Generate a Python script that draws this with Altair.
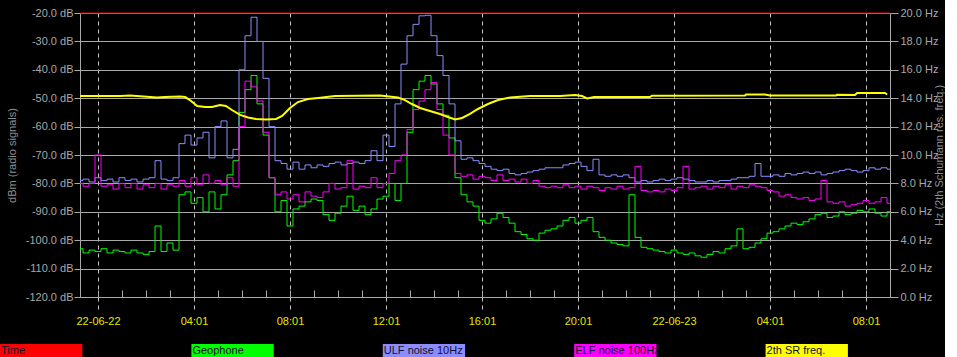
import altair as alt
import pandas as pd

# sample times: hours after 22-06-22 00:01, one reading every quarter hour
hours = [-0.75 + 0.25 * i for i in range(136)]

geophone_db = [
    -103, -104.5, -103.5, -104, -103, -104.5, -103.5, -104, -104.5, -103.5,
    -104.5, -105, -104, -95, -104, -101, -103.5, -84, -83, -87,
    -85, -90, -83, -89, -84, -77, -72, -55, -47, -42,
    -52, -63, -78, -90, -86, -95, -89, -88, -86.5, -85.5,
    -86, -91, -93, -90.5, -88, -84.5, -89.5, -88, -91, -89,
    -85.5, -84.5, -80, -86, -80, -62, -47, -44, -42, -45,
    -52, -56, -64, -78, -84, -86.5, -88, -93, -94, -92.5,
    -90.5, -92, -94, -97, -98, -99.5, -100, -97.5, -96.5, -96,
    -95, -93, -92, -94, -93, -92, -97, -99, -100, -101,
    -101.5, -102, -84, -99, -102.5, -103, -103.5, -104, -104.5, -103.5,
    -104.5, -105, -104.5, -105.5, -106, -105, -104, -104.5, -103, -102,
    -96, -103, -102.5, -101, -99.5, -97.5, -97, -96, -95, -94,
    -94.5, -93.5, -92.5, -91, -90.5, -92, -91.5, -90, -91, -90.5,
    -89.5, -90, -89, -90.5, -91.5, -90,
]

ulf_db = [
    -79, -78.5, -79.5, -78, -79, -78.5, -79.5, -78, -79, -78.5,
    -79.5, -78.5, -78, -72, -78.5, -79, -78, -66, -63, -66.5,
    -64, -62, -71, -60, -58, -71, -68, -40, -28, -21.5,
    -30, -43, -60, -72, -73, -75, -72.5, -75, -73.5, -74.5,
    -73.5, -74, -73, -72.5, -73.5, -73, -72.5, -73, -72, -68.5,
    -72, -63, -67, -52, -38, -28, -24, -21, -20.8, -28,
    -35, -42, -52, -65, -71.5, -71, -72, -73, -74, -75,
    -75.5, -75, -76.5, -77, -76.5, -76, -75.5, -75, -74.5, -74.5,
    -74.5, -73.5, -73, -72.5, -74, -75.5, -71.5, -77, -77.5, -77,
    -77.5, -77, -78, -79.5, -79, -79.5, -79, -78.5, -79, -78.5,
    -78, -78.5, -79, -79.5, -79.5, -79, -79.5, -79, -79, -78.5,
    -78, -78, -77.5, -73, -77.5, -77.5, -77, -77.5, -76.5, -77,
    -76.5, -76, -76.5, -76, -77, -76.5, -76, -75.5, -75, -75.5,
    -76, -75.5, -74.5, -75, -74.5, -75,
]

elf_db = [
    -80, -81, -80, -70, -81, -80.5, -82, -80, -81.5, -80,
    -82, -80.5, -81.5, -80, -82, -80.5, -81, -79, -81, -78,
    -80.5, -77, -80, -79, -80.5, -78, -81, -60, -44, -46,
    -51, -62, -78, -84, -83, -85.5, -84, -86.5, -83, -84.5,
    -85, -83, -80, -82, -81.5, -72, -82, -81, -81.5, -78,
    -81.5, -80, -76.5, -72, -70, -61, -54, -51, -47, -44.5,
    -54, -63, -70, -76.5, -77.5, -77, -78.5, -77.5, -78, -79,
    -77, -79, -78.5, -79.5, -78.5, -80, -79, -81, -81.5, -81,
    -81.5, -80.5, -81.5, -81, -82, -81, -81.5, -82.5, -81.5, -82,
    -81, -82, -81.5, -74, -82.5, -83, -82.5, -83, -82, -82.5,
    -81.5, -74, -82, -81.5, -81, -82, -81, -81.5, -80.5, -82,
    -81, -81.5, -80.5, -81, -81.5, -82.5, -83, -84.5, -84, -85,
    -85.5, -85, -86, -85.5, -79, -86.5, -87, -86.5, -88, -87.5,
    -87, -86, -87, -86.5, -85, -87,
]

sr_hours = [
    -0.75, 0.92, 1.33, 2.46, 2.79, 3.42, 3.63, 3.83, 4.13, 4.46, 4.75, 5.08,
    5.33, 5.58, 5.92, 6.25, 6.58, 7.0, 7.42, 7.67, 8.0, 8.33, 8.75, 9.17,
    9.88, 11.75, 12.5, 12.79, 13.08, 13.42, 13.83, 14.25, 14.58, 14.88, 15.17,
    15.5, 15.83, 16.25, 16.67, 17.17, 18.0, 19.25, 19.88, 20.17, 20.38, 20.67,
    21.75, 23.0, 23.08, 26.96, 27.0, 27.79, 28.0, 30.75, 30.79, 31.54, 31.63,
    32.79, 32.88,
]
sr_hz = [
    14.15, 14.15, 14.19, 14.05, 14.08, 14.12, 14.08, 13.87, 13.45, 13.38, 13.38, 13.52,
    13.45, 13.17, 12.82, 12.64, 12.54, 12.5, 12.54, 12.75, 13.31, 13.73, 13.94, 14.01,
    14.15, 14.19, 14.05, 13.87, 13.59, 13.31, 13.1, 12.89, 12.68, 12.5, 12.61,
    12.89, 13.24, 13.59, 13.87, 14.05, 14.15, 14.15, 14.23, 14.15, 13.98, 14.08,
    14.08, 14.08, 14.17, 14.19, 14.26, 14.26, 14.19, 14.19, 14.24, 14.23, 14.37,
    14.37, 14.26,
]

time_level = [-20]
major_hours = [0, 4, 8, 12, 16, 20, 24, 28, 32]
minor_hours = list(range(0, 34))
db_ticks = [-120, -110, -100, -90, -80, -70, -60, -50, -40, -30, -20]
hz_ticks = [0, 2, 4, 6, 8, 10, 12, 14, 16, 18, 20]

legend_names = ["Time", "Geophone", "ULF noise 10Hz", "ELF noise 100Hz", "2th SR freq."]
legend_colors = ["#ff0000", "#00ff00", "#8c8cff", "#ff00ff", "#ffff00"]

FONT = "Liberation Sans"
GRID = "#a8a8a8"
LABEL = "#a8a8a8"
PLOT_W = 810
PLOT_H = 284
PLOT_LEFT = 80   # page x of the plot area's left edge
SLOT = 191.4     # legend slot width in page pixels

xscale = alt.Scale(domain=[-0.75, 33.0], nice=False, zero=False)
dbscale = alt.Scale(domain=[-120, -20], nice=False, zero=False)
hzscale = alt.Scale(domain=[0, 20], nice=False, zero=False)

x_label_expr = (
    "datum.value == 0 ? '22-06-22' : datum.value == 24 ? '22-06-23' : "
    "((datum.value % 24) < 10 ? '0' : '') + (datum.value % 24) + ':01'"
)

geo_df = pd.DataFrame({"h": hours, "v": geophone_db})
ulf_df = pd.DataFrame({"h": hours, "v": ulf_db})
elf_df = pd.DataFrame({"h": hours, "v": elf_db})
sr_df = pd.DataFrame({"h": sr_hours, "f": sr_hz})
time_df = pd.DataFrame({"lvl": time_level})

geo = alt.Chart(geo_df).mark_line(
    color=legend_colors[1], strokeWidth=1, interpolate="step"
).encode(
    x=alt.X("h:Q", scale=xscale, axis=alt.Axis(
        orient="bottom", values=major_hours, labelExpr=x_label_expr, title=None,
        grid=True, gridColor="#c8c8c8", gridDash=[4, 4], gridWidth=1,
        ticks=True, tickDash=[4, 4], tickSize=13, tickColor="#c8c8c8", tickWidth=1,
        domain=True, domainColor=GRID, domainWidth=1,
        labelColor="#e6e600", labelFont=FONT, labelFontSize=11, labelPadding=5,
    )),
    y=alt.Y("v:Q", scale=dbscale, axis=alt.Axis(
        orient="left", values=db_ticks, title="dBm (radio signals)",
        labelExpr="(datum.value < 0 ? '-' : '') + format(abs(datum.value), '.1f') + ' dB'",
        grid=True, gridColor=GRID, gridWidth=1,
        ticks=True, tickSize=6, tickColor=GRID, domain=True, domainColor=GRID,
        labelColor=LABEL, labelFont=FONT, labelFontSize=11, labelPadding=1,
        titleColor="#909090", titleFont=FONT, titleFontSize=11,
        titleFontWeight="normal", titlePadding=8,
    )),
)

ulf = alt.Chart(ulf_df).mark_line(
    color=legend_colors[2], strokeWidth=1, interpolate="step"
).encode(
    x=alt.X("h:Q", scale=xscale, axis=alt.Axis(
        orient="bottom", values=minor_hours, labels=False, grid=False, domain=False,
        ticks=True, tickSize=7, tickColor=GRID, offset=-7, title=None,
    )),
    y=alt.Y("v:Q", scale=dbscale, axis=None),
)

elf = alt.Chart(elf_df).mark_line(
    color=legend_colors[3], strokeWidth=1, interpolate="step"
).encode(
    x=alt.X("h:Q", scale=xscale, axis=None),
    y=alt.Y("v:Q", scale=dbscale, axis=None),
)

sr = alt.Chart(sr_df).mark_line(
    color=legend_colors[4], strokeWidth=2
).encode(
    x=alt.X("h:Q", scale=xscale, axis=None),
    y=alt.Y("f:Q", scale=hzscale, axis=alt.Axis(
        orient="right", values=hz_ticks, title="Hz (2th Schumann res. freq.)",
        labelExpr="format(datum.value, '.1f') + ' Hz'",
        grid=False, ticks=True, tickSize=8, tickColor=GRID,
        domain=True, domainColor=GRID,
        labelColor=LABEL, labelFont=FONT, labelFontSize=11, labelPadding=2,
        titleColor="#909090", titleFont=FONT, titleFontSize=11,
        titleFontWeight="normal", titleAngle=270, titlePadding=7,
    )),
)

time_rule = alt.Chart(time_df).mark_rule(color="#e00000", strokeWidth=1).encode(
    y=alt.Y("lvl:Q", scale=dbscale, axis=None)
)

main = alt.layer(geo, ulf, elf, time_rule, sr).resolve_scale(
    y="independent"
).resolve_axis(x="independent", y="independent").properties(width=PLOT_W, height=PLOT_H)

legend_df = pd.DataFrame({
    "idx": list(range(len(legend_names))),
    "name": legend_names,
    "color": legend_colors,
})
# legend strip shares the plot's left origin, so shift its scale to start at the page edge
l0 = PLOT_LEFT / SLOT
lscale = alt.Scale(domain=[l0, l0 + PLOT_W / SLOT], nice=False, zero=False)
leg_base = alt.Chart(legend_df).transform_calculate(x2="datum.idx + 0.43")
leg_rect = leg_base.mark_rect().encode(
    x=alt.X("idx:Q", scale=lscale, axis=None),
    x2="x2:Q",
    color=alt.Color("color:N", scale=None, legend=None),
)
leg_text = leg_base.mark_text(
    align="left", baseline="middle", dx=1, font=FONT, fontSize=11, color="#101030"
).encode(
    x=alt.X("idx:Q", scale=lscale, axis=None),
    text="name:N",
)
legend = alt.layer(leg_rect, leg_text).properties(width=PLOT_W, height=14)

chart = alt.vconcat(main, legend, spacing=18).properties(
    background="#000000",
    padding={"left": 0, "top": 7, "right": 0, "bottom": 0},
).configure_view(strokeWidth=0)

chart.save("out.html", embed_options={"renderer": "svg", "actions": False})
